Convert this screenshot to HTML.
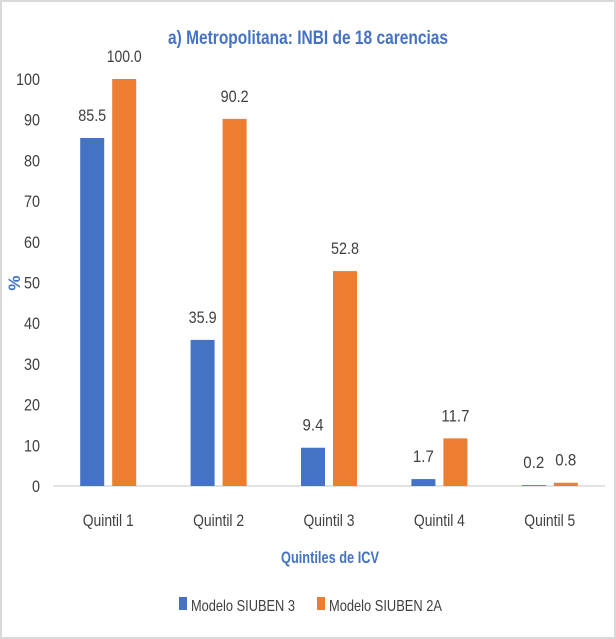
<!DOCTYPE html>
<html><head><meta charset="utf-8"><style>
html,body{margin:0;padding:0;background:#fff}
svg{display:block}
text{font-family:"Liberation Sans Narrow","Liberation Sans",sans-serif}
</style></head><body>
<svg id="c" width="616" height="639" viewBox="0 0 616 639">
<rect x="1" y="1" width="614" height="637" fill="#fff" stroke="#d9d9d9" stroke-width="2"/>
<text x="308" y="44" text-anchor="middle" font-size="19" font-weight="bold" fill="#4472c4" textLength="280" lengthAdjust="spacingAndGlyphs">a) Metropolitana: INBI de 18 carencias</text>
<text transform="translate(20,283) rotate(-90)" text-anchor="middle" font-size="17" font-weight="bold" fill="#4472c4">%</text>
<text x="330" y="563" text-anchor="middle" font-size="17" font-weight="bold" fill="#4472c4" textLength="98" lengthAdjust="spacingAndGlyphs">Quintiles de ICV</text>
<g id="plot"></g>
<g>
<rect x="179" y="597" width="8" height="13" fill="#4472c4"/>
<text x="191" y="611" font-size="16" fill="#404040" textLength="104" lengthAdjust="spacingAndGlyphs">Modelo SIUBEN 3</text>
<rect x="317" y="597" width="8" height="13" fill="#ed7d31"/>
<text x="329" y="611" font-size="16" fill="#404040" textLength="113" lengthAdjust="spacingAndGlyphs">Modelo SIUBEN 2A</text>
</g>
</svg>
<script>
const categories=["Quintil 1","Quintil 2","Quintil 3","Quintil 4","Quintil 5"];
const siuben3=[85.5,35.9,9.4,1.7,0.2];
const siuben2a=[100.0,90.2,52.8,11.7,0.8];
const yTicks=[0,10,20,30,40,50,60,70,80,90,100];
const NS="http://www.w3.org/2000/svg";
const g=document.getElementById('plot');
const x0=53,x1=605,yBase=486,yTop=79;
const band=(x1-x0)/categories.length;
const y=v=>yBase-(v/100)*(yBase-yTop);
function el(t,a){const e=document.createElementNS(NS,t);for(const k in a)e.setAttribute(k,a[k]);g.appendChild(e);return e;}
yTicks.forEach(t=>{
 const s=String(t);
 const e=el('text',{x:40,y:y(t)+6,'text-anchor':'end','font-size':17,fill:'#404040',textLength:s.length*8,lengthAdjust:'spacingAndGlyphs'});
 e.textContent=s;
 
 
});
const ax=el('line',{x1:x0,x2:x1,y1:yBase,y2:yBase,stroke:'#d9d9d9','stroke-width':1.5});


const bw=24,gap=8;
categories.forEach((c,i)=>{
 const cx=x0+band*(i+0.5);
 const lab=el('text',{x:cx,y:526,'text-anchor':'middle','font-size':17,fill:'#404040',textLength:51,lengthAdjust:'spacingAndGlyphs'});
 lab.textContent=c;
 
 
 [[siuben3,'#4472c4',cx-gap/2-bw,'siuben3'],[siuben2a,'#ed7d31',cx+gap/2,'siuben2a']].forEach(([arr,col,bx,nm])=>{
  const v=arr[i];
  const r=el('rect',{x:bx,y:y(v),width:bw,height:yBase-y(v),fill:col});
  
  
  const s=v.toFixed(1);
  const t=el('text',{x:bx+bw/2,y:y(v)-17,'text-anchor':'middle','font-size':17,fill:'#404040',textLength:s.length*7,lengthAdjust:'spacingAndGlyphs'});
  t.textContent=s;
  
  
 });
});
</script>
</body></html>
